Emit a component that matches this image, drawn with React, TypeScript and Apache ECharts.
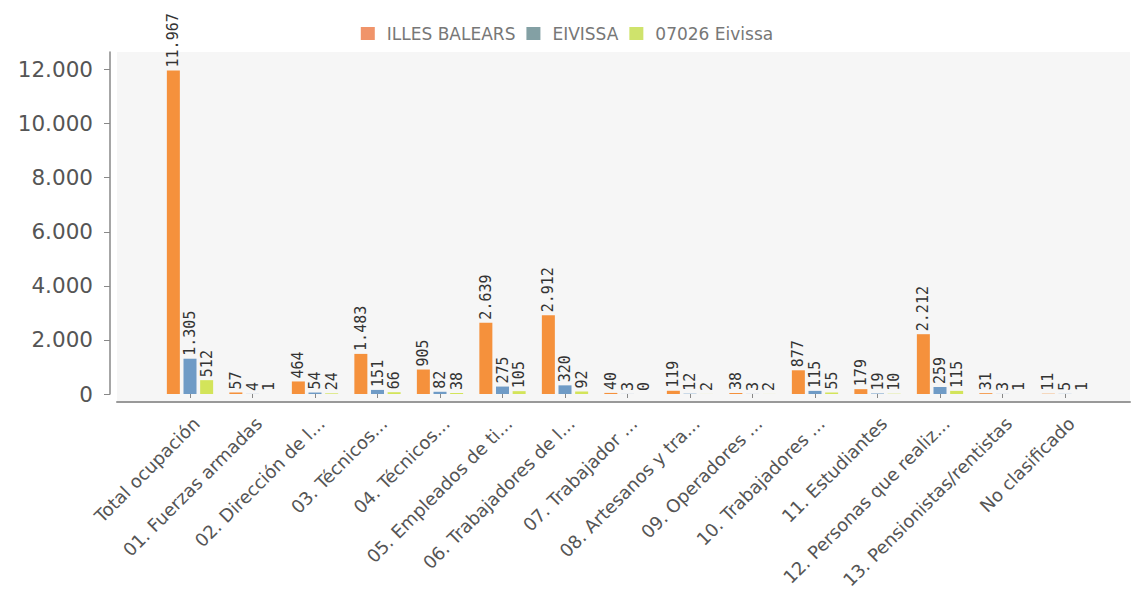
import React, { useEffect, useRef } from "react";
import * as echarts from "echarts";

const categories = [
  "Total ocupación",
  "01. Fuerzas armadas",
  "02. Dirección de l...",
  "03. Técnicos...",
  "04. Técnicos...",
  "05. Empleados de ti...",
  "06. Trabajadores de l...",
  "07. Trabajador ...",
  "08. Artesanos y tra...",
  "09. Operadores ...",
  "10. Trabajadores ...",
  "11. Estudiantes",
  "12. Personas que realiz...",
  "13. Pensionistas/rentistas",
  "No clasificado",
];

const illesBalears = [11967, 57, 464, 1483, 905, 2639, 2912, 40, 119, 38, 877, 179, 2212, 31, 11];
const eivissa = [1305, 4, 54, 151, 82, 275, 320, 3, 12, 3, 115, 19, 259, 3, 5];
const eivissa07026 = [512, 1, 24, 66, 38, 105, 92, 0, 2, 2, 55, 10, 115, 1, 1];

const seriesNames = ["ILLES BALEARS", "EIVISSA", "07026 Eivissa"];
const barColors = ["#f5913c", "#6f9bc6", "#d3e45a"];
const legendColors = ["#f0946a", "#83a0a4", "#cfe36c"];

const fmt = (v: number) => String(v).replace(/\B(?=(\d{3})+(?!\d))/g, ".");

export default function App() {
  const ref = useRef<HTMLDivElement>(null);
  useEffect(() => {
    document.body.style.margin = "0";
    if (!ref.current) return;
    const chart = echarts.init(ref.current, undefined, { renderer: "svg" });
    const dataSets = [illesBalears, eivissa, eivissa07026];
    const labelStyle = {
      show: true,
      position: "top",
      rotate: 90,
      align: "left",
      verticalAlign: "middle",
      distance: 3,
      fontFamily: "DejaVu Sans Mono",
      fontSize: 15,
      color: "#333",
      formatter: (p: any) => fmt(p.value),
    };
    chart.setOption({
      animation: false,
      legend: {
        top: 20,
        left: "center",
        itemWidth: 14,
        itemHeight: 13,
        itemGap: 11,
        icon: "rect",
        textStyle: {
          fontFamily: "DejaVu Sans",
          fontSize: 17,
          color: "#777",
          padding: [0, 0, 0, 7],
        },
        data: seriesNames.map((n, i) => ({ name: n, itemStyle: { color: legendColors[i] } })),
      },
      grid: [
        {
          left: 117,
          right: 4,
          top: 52,
          bottom: 198,
          show: true,
          backgroundColor: "#f6f6f6",
          borderWidth: 0,
          containLabel: false,
          outerBoundsMode: "none",
        },
        {
          left: 158.75,
          right: 37.75,
          top: 52,
          bottom: 206,
          containLabel: false,
          outerBoundsMode: "none",
        },
      ],
      xAxis: [
        {
          gridIndex: 0,
          type: "category",
          data: [""],
          axisLine: { show: true, lineStyle: { color: "#999", width: 2 } },
          axisTick: { show: false },
          axisLabel: { show: false },
          silent: true,
        },
        {
          gridIndex: 1,
          type: "category",
          data: categories,
          offset: 8,
          axisLine: { show: false },
          axisTick: { show: true, alignWithLabel: true, length: 4, lineStyle: { color: "#888" } },
          axisLabel: {
            rotate: 45,
            interval: 0,
            margin: 12,
            verticalAlign: "top",
            fontFamily: "DejaVu Sans",
            fontSize: 18,
            color: "#555",
          },
        },
      ],
      yAxis: [
        { gridIndex: 0, type: "value", show: false },
        {
          gridIndex: 1,
          type: "value",
          min: 0,
          max: 12650,
          interval: 2000,
          offset: 48.75,
          axisLine: { show: true, lineStyle: { color: "#888", width: 1.5 } },
          axisTick: { show: true, length: 6, lineStyle: { color: "#888" } },
          splitLine: { show: false },
          axisLabel: {
            showMaxLabel: false,
            margin: 17,
            fontFamily: "DejaVu Sans",
            fontSize: 21.5,
            color: "#555",
            formatter: (v: number) => fmt(v),
          },
        },
      ],
      series: seriesNames.map((name, i) => ({
        name,
        type: "bar",
        xAxisIndex: 1,
        yAxisIndex: 1,
        barWidth: 13,
        barGap: "28%",
        itemStyle: { color: barColors[i] },
        label: labelStyle,
        data: dataSets[i],
      })),
    });
    return () => chart.dispose();
  }, []);
  return <div ref={ref} style={{ width: 1134, height: 600 }} />;
}
